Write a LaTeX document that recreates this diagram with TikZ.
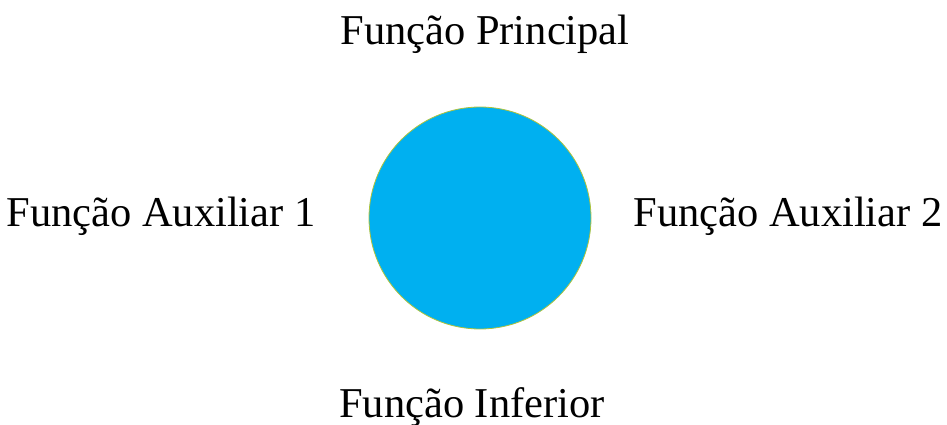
\documentclass[tikz,border=0pt]{standalone}
\usepackage{fontspec}
\setmainfont{Liberation Serif}
\usepackage[dvipsnames]{xcolor}

\definecolor{bolaazul}{RGB}{0,176,240}
\definecolor{bordaverde}{RGB}{175,195,60}

\begin{document}
\begin{tikzpicture}[x=1pt,y=-1pt,
    rotulo/.style={anchor=base, inner sep=0pt, font=\fontsize{42.5}{50}\selectfont}]
    % moldura
    \useasboundingbox (0,0) rectangle (947,425);
    % circulo central
    \filldraw[fill=bolaazul, draw=bordaverde, line width=0.8pt] (480,218) circle (111);
    \node[inner sep=0pt] (centro) at (480,218) {};
    % funcoes
    \node[rotulo] (principal) at (485,45) {Função Principal};
    \node[rotulo] (aux1) at (161,226) {Função Auxiliar 1};
    \node[rotulo] (aux2) at (788,226) {Função Auxiliar 2};
    \node[rotulo] (inferior) at (472,417) {Função Inferior};
\end{tikzpicture}
\end{document}
